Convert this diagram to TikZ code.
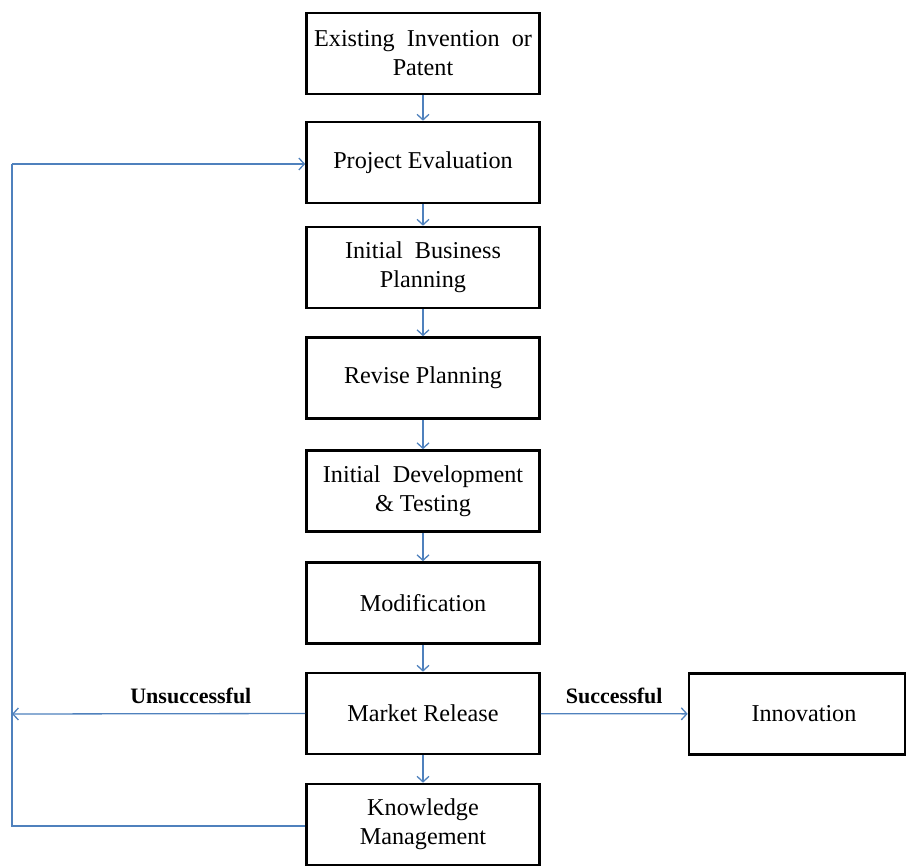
\documentclass[tikz,border=0pt]{standalone}
\usepackage{fontspec}
\setmainfont{Liberation Serif}
\usetikzlibrary{arrows.meta}
\definecolor{flowblue}{RGB}{79,129,189}
\tikzset{
  stepbox/.style={draw=black, line width=2.6pt, minimum width=233pt, minimum height=81pt,
    align=center, inner sep=2pt, font=\fontsize{24.2}{29}\selectfont},
  flow/.style={draw=flowblue, line width=1.3pt, -{Straight Barb[length=5.5pt,width=12pt,line width=1.3pt]}},
  link/.style={draw=flowblue, line width=1.3pt},
  tag/.style={font=\bfseries\fontsize{22}{24}\selectfont}
}
\begin{document}
\begin{tikzpicture}[x=1pt,y=-1pt]
\useasboundingbox (0,0) rectangle (913,866);
\node[stepbox] (patent)  at (423,53.5) {Existing\ \ Invention\ \ or\\Patent};
\node[stepbox] (eval)    at (423,162.5) {Project Evaluation};
\node[stepbox] (plan)    at (423,267.5) {Initial\ \ Business\\Planning};
\node[stepbox] (revise)  at (423,378) {Revise Planning};
\node[stepbox] (develop) at (423,491) {Initial\ \ Development\\\& Testing};
\node[stepbox] (modify)  at (423,603) {Modification};
\node[stepbox] (market)  at (423,713.5) {Market Release};
\node[stepbox] (know)    at (423,824.5) {Knowledge\\Management};
\node[stepbox, minimum width=216pt, text width=200pt, align=center] (innov) at (797,714) {\hspace*{14pt}Innovation};

\coordinate (leftup)  at (12,164);
\coordinate (leftmid) at (12,714);
\coordinate (leftlow) at (12,826);

\draw[flow] (patent) -- (eval);
\draw[flow] (eval) -- (plan);
\draw[flow] (plan) -- (revise);
\draw[flow] (revise) -- (develop);
\draw[flow] (develop) -- (modify);
\draw[flow] (modify) -- (market);
\draw[flow] (market) -- (know);
\draw[flow] (market) -- node[tag, above=6pt] {Successful} (innov);
\draw[flow] (market.west) -- node[tag, above=6pt, pos=0.39] {Unsuccessful} (leftmid);
\draw[link] (know.west |- leftlow) -- (leftlow) -- (leftup);
\draw[flow] (leftup) -- (leftup -| eval.west);
\end{tikzpicture}
\end{document}
